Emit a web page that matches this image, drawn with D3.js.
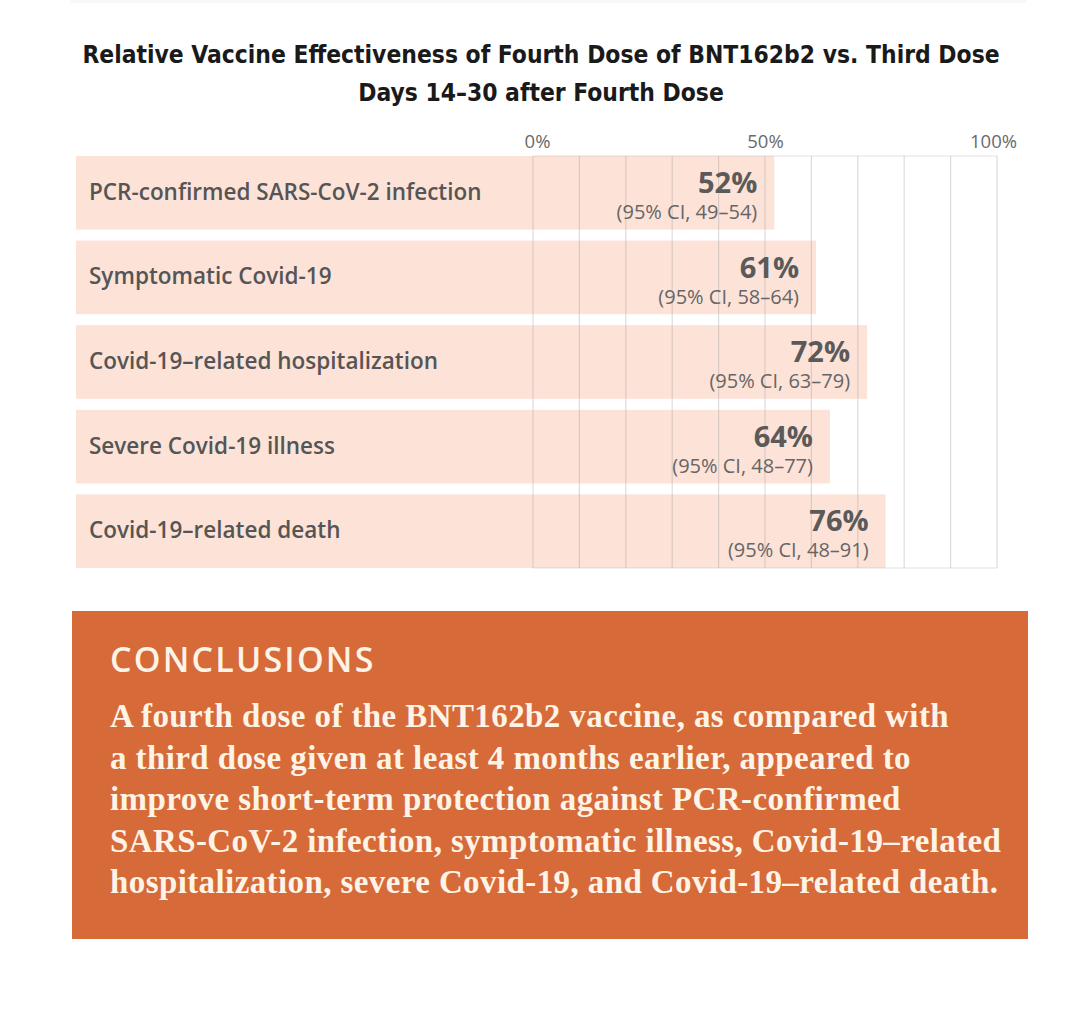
<!DOCTYPE html>
<html>
<head>
<meta charset="utf-8">
<script src="https://cdn.jsdelivr.net/npm/d3@7"></script>
<style>
  body { margin: 0; background: #fff; }
  svg { display: block; }
</style>
</head>
<body>
<svg width="1080" height="1022"></svg>
<script>
// chart data
const categories = [
  "PCR-confirmed SARS-CoV-2 infection",
  "Symptomatic Covid-19",
  "Covid-19\u2013related hospitalization",
  "Severe Covid-19 illness",
  "Covid-19\u2013related death"
];
const values = [52, 61, 72, 64, 76];
const ciLow = [49, 58, 63, 48, 48];
const ciHigh = [54, 64, 79, 77, 91];
const axisTicks = [0, 50, 100];
const titleLines = [
  "Relative Vaccine Effectiveness of Fourth Dose of BNT162b2 vs. Third Dose",
  "Days 14\u201330 after Fourth Dose"
];
const conclusionLines = [
  "A fourth dose of the BNT162b2 vaccine, as compared with",
  "a third dose given at least 4 months earlier, appeared to",
  "improve short-term protection against PCR-confirmed",
  "SARS-CoV-2 infection, symptomatic illness, Covid-19\u2013related",
  "hospitalization, severe Covid-19, and Covid-19\u2013related death."
];

const svg = d3.select("svg");

// faint edge of previous panel at the very top
svg.append("rect")
  .attr("x", 70).attr("y", 0).attr("width", 957).attr("height", 3)
  .attr("fill", "#f8f8f8");

// title
svg.append("g").selectAll("text")
  .data(titleLines)
  .enter()
  .append("text")
  .attr("x", 541)
  .attr("y", (d, i) => 63 + i * 38)
  .attr("text-anchor", "middle")
  .style("font-family", "'Liberation Sans Narrow', 'DejaVu Sans Condensed', sans-serif")
  .style("font-weight", "bold")
  .style("font-size", "24.4px")
  .style("fill", "#1a1a1a")
  .text(d => d);

const x = d3.scaleLinear().domain([0, 100]).range([533, 997]);
const y = d3.scaleBand().domain(categories).range([156, 568]).paddingInner(0.13).paddingOuter(0);
const labelStart = 76;

// bars (label cell and value bar are one pale band)
svg.append("g").selectAll("rect")
  .data(categories)
  .enter()
  .append("rect")
  .attr("x", labelStart)
  .attr("y", d => y(d))
  .attr("width", (d, i) => x(values[i]) - labelStart)
  .attr("height", y.bandwidth())
  .attr("fill", "#fde2d8");

// grid lines drawn over the bars
svg.append("g").selectAll("line")
  .data(d3.range(0, 101, 10))
  .enter()
  .append("line")
  .attr("x1", d => x(d)).attr("x2", d => x(d))
  .attr("y1", 156).attr("y2", 568)
  .attr("stroke", "#a8a8a8")
  .attr("stroke-opacity", 0.4)
  .attr("stroke-width", 1.2);

svg.append("g").selectAll("line")
  .data([156, 568])
  .enter()
  .append("line")
  .attr("x1", x(0)).attr("x2", x(100))
  .attr("y1", d => d).attr("y2", d => d)
  .attr("stroke", "#a8a8a8")
  .attr("stroke-opacity", 0.35)
  .attr("stroke-width", 1.2);

// top axis with 0%, 50%, 100%
const axis = svg.append("g")
  .attr("transform", "translate(0,148)")
  .call(d3.axisTop(x).tickValues(axisTicks).tickSize(0).tickPadding(0).tickFormat(d => d + "%"));
axis.select(".domain").remove();
axis.selectAll("text")
  .style("font-family", "'Open Sans', sans-serif")
  .style("font-size", "18.5px")
  .style("fill", "#6a6a6a");
axis.selectAll(".tick").filter(d => d === 0).select("text").attr("dx", 4);
axis.selectAll(".tick").filter(d => d === 100).select("text").attr("dx", -4);

// row labels
svg.append("g").selectAll("text")
  .data(categories)
  .enter()
  .append("text")
  .attr("x", 89)
  .attr("y", d => y(d) + y.bandwidth() / 2 + 7)
  .style("font-family", "'Open Sans', sans-serif")
  .style("font-weight", 600)
  .style("font-size", "22.5px")
  .style("fill", "#555")
  .text(d => d);

// value and CI labels
svg.append("g").selectAll("text")
  .data(categories)
  .enter()
  .append("text")
  .attr("x", (d, i) => x(values[i]) - 17)
  .attr("y", d => y(d) + 37)
  .attr("text-anchor", "end")
  .style("font-family", "'Open Sans', sans-serif")
  .style("font-weight", "bold")
  .style("font-size", "29px")
  .style("fill", "#5a5a5a")
  .text((d, i) => values[i] + "%");

svg.append("g").selectAll("text")
  .data(categories)
  .enter()
  .append("text")
  .attr("x", (d, i) => x(values[i]) - 17)
  .attr("y", d => y(d) + 63)
  .attr("text-anchor", "end")
  .style("font-family", "'Open Sans', sans-serif")
  .style("font-size", "20px")
  .style("fill", "#666")
  .text((d, i) => "(95% CI, " + ciLow[i] + "\u2013" + ciHigh[i] + ")");

// conclusions box
const box = svg.append("g");
box.append("rect")
  .attr("x", 72).attr("y", 611).attr("width", 956).attr("height", 328)
  .attr("fill", "#d66a38");

box.append("text")
  .attr("x", 110).attr("y", 672)
  .style("font-family", "'Open Sans', sans-serif")
  .style("font-weight", 600)
  .style("font-size", "34px")
  .style("letter-spacing", "2.2px")
  .style("fill", "#fdf3e6")
  .text("CONCLUSIONS");

box.selectAll(".concl")
  .data(conclusionLines)
  .enter()
  .append("text")
  .attr("class", "concl")
  .attr("x", 110)
  .attr("y", (d, i) => 727 + i * 41.5)
  .style("font-family", "'Liberation Serif', 'DejaVu Serif', serif")
  .style("font-weight", 600)
  .style("font-size", "33px")
  .style("letter-spacing", "0.4px")
  .style("fill", "#fdf3e6")
  .text(d => d);
</script>
</body>
</html>
